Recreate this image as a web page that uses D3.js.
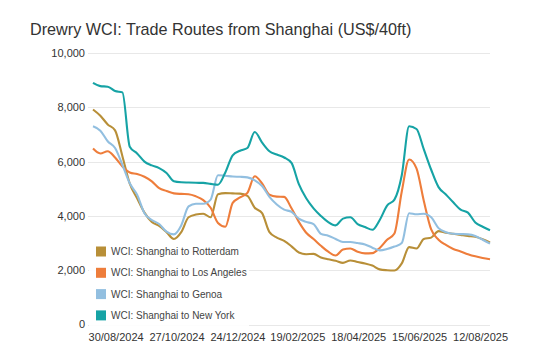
<!DOCTYPE html>
<html lang="en">
  <head>
    <meta charset="utf-8" />
    <title>Drewry WCI: Trade Routes from Shanghai</title>
    <script src="https://d3js.org/d3.v7.min.js"></script>
    <style>
      body {
        margin: 0;
        background: #fff;
      }
      svg {
        display: block;
        font-family: 'Liberation Sans', Arial, sans-serif;
      }
      .grid line {
        stroke: #e8e8e8;
        stroke-width: 1;
      }
      .line {
        fill: none;
        stroke-width: 2.1;
        stroke-linejoin: round;
      }
    </style>
  </head>
  <body>
    <svg width="557" height="355"></svg>
    <script>

    // weekly readings, Thursday 08/08/2024 .. 21/08/2025
    var firstWeek = "2024-08-08";

    var rotterdam = [7920, 7690, 7370, 7150, 6200, 5190, 4650, 4120, 3780, 3630,
                     3400, 3150, 3400, 3950, 4050, 4080, 3950, 4800, 4840, 4830,
                     4820, 4740, 4300, 4100, 3400, 3200, 3080, 2880, 2650, 2590,
                     2600, 2470, 2400, 2350, 2270, 2360, 2300, 2250, 2170, 2030,
                     2000, 1990, 2250, 2850, 2800, 3150, 3200, 3440, 3380, 3340,
                     3300, 3260, 3230, 3140, 3020];

    var losAngeles = [6480, 6300, 6380, 6150, 5820, 5600, 5540, 5440, 5270, 5020,
                      4920, 4830, 4810, 4800, 4720, 4580, 4300, 3740, 3600, 4480,
                      4680, 4850, 5460, 5200, 4780, 4710, 4700, 4280, 3780, 3380,
                      3150, 2900, 2680, 2540, 2760, 2800, 2680, 2620, 2630, 2820,
                      3120, 3350, 4900, 6080, 5750, 4550, 3500, 3120, 2930, 2780,
                      2690, 2590, 2510, 2450, 2400];

    var genoa = [7300, 7140, 6750, 6500, 5880, 5200, 4780, 4100, 3850, 3700,
                 3420, 3320, 3650, 4350, 4450, 4450, 4600, 5500, 5480, 5450,
                 5440, 5420, 5310, 5100, 4700, 4420, 4230, 4150, 3900, 3780,
                 3700, 3340, 3270, 3150, 3040, 3040, 3000, 2950, 2830, 2730,
                 2780, 2870, 3000, 4100, 4060, 4080, 3950, 3550, 3400, 3340,
                 3330, 3320, 3260, 3120, 2980];

    var newYork = [8900, 8780, 8760, 8600, 8550, 6550, 6300, 6000, 5860, 5760,
                   5580, 5280, 5240, 5230, 5220, 5215, 5180, 5150, 5600, 6230,
                   6400, 6500, 7090, 6700, 6380, 6260, 6150, 5950, 5170, 4650,
                   4280, 4000, 3770, 3650, 3900, 3950, 3700, 3590, 3490, 3850,
                   4380, 4600, 5500, 7300, 7200, 6450, 5700, 5060, 4790, 4500,
                   4230, 4120, 3760, 3600, 3470];

    var seriesNames = ["WCI: Shanghai to Rotterdam", "WCI: Shanghai to Los Angeles",
                       "WCI: Shanghai to Genoa", "WCI: Shanghai to New York"];
    var seriesColours = ["#b88f38", "#ee7d3b", "#92bfe0", "#16a3a5"];

    var yTicks = [0, 2000, 4000, 6000, 8000, 10000];
    var xTickLabels = ["30/08/2024", "27/10/2024", "24/12/2024", "19/02/2025",
                       "18/04/2025", "15/06/2025", "12/08/2025"];

    var parseDay = d3.timeParse("%Y-%m-%d"),
        parseLabel = d3.timeParse("%d/%m/%Y");

    var start = parseDay(firstWeek);
    var weeks = rotterdam.map(function(d, i) { return d3.timeDay.offset(start, 7 * i); });

    var series = [rotterdam, losAngeles, genoa, newYork].map(function(values, k) {
      return {
        name: seriesNames[k],
        colour: seriesColours[k],
        values: values.map(function(v, i) { return {date: weeks[i], value: v}; })
      };
    });

    var svg = d3.select("svg"),
        plot = {left: 88, right: 490, top: 53, bottom: 324.5};

    var x = d3.scaleTime()
        .domain([weeks[0], weeks[weeks.length - 1]])
        .range([93, 490]);

    var y = d3.scaleLinear()
        .domain([0, 10000])
        .range([plot.bottom, plot.top]);

    svg.append("text")
        .attr("x", 30)
        .attr("y", 35)
        .attr("font-size", 16.2)
        .attr("fill", "#333")
        .text("Drewry WCI: Trade Routes from Shanghai (US$/40ft)");

    svg.append("g")
        .attr("class", "grid")
        .selectAll("line")
        .data(yTicks)
        .enter().append("line")
        .attr("x1", plot.left)
        .attr("x2", plot.right)
        .attr("y1", function(d) { return Math.round(y(d)) + 0.5; })
        .attr("y2", function(d) { return Math.round(y(d)) + 0.5; });

    svg.append("g")
        .selectAll("text")
        .data(yTicks)
        .enter().append("text")
        .attr("x", 85)
        .attr("y", function(d) { return y(d); })
        .attr("dy", "0.36em")
        .attr("text-anchor", "end")
        .attr("font-size", 11)
        .attr("fill", "#333")
        .text(d3.format(","));

    svg.append("g")
        .selectAll("text")
        .data(xTickLabels)
        .enter().append("text")
        .attr("x", function(d) { return x(parseLabel(d)); })
        .attr("y", 341)
        .attr("text-anchor", "middle")
        .attr("font-size", 11)
        .attr("fill", "#333")
        .text(function(d) { return d; });

    var line = d3.line()
        .curve(d3.curveMonotoneX)
        .x(function(d) { return x(d.date); })
        .y(function(d) { return y(d.value); });

    svg.append("g")
        .selectAll("path")
        .data(series)
        .enter().append("path")
        .attr("class", "line")
        .attr("d", function(d) { return line(d.values); })
        .style("stroke", function(d) { return d.colour; });

    // legend sits on a white panel over the lower left of the plot
    svg.append("rect")
        .attr("x", 89)
        .attr("y", 241)
        .attr("width", 160)
        .attr("height", 88)
        .attr("fill", "#fff")
        .attr("fill-opacity", 0.9);

    var legend = svg.append("g")
        .selectAll("g")
        .data(series)
        .enter().append("g")
        .attr("transform", function(d, i) { return "translate(96," + (246.5 + i * 21.3) + ")"; });

    legend.append("rect")
        .attr("width", 10)
        .attr("height", 10)
        .attr("fill", function(d) { return d.colour; });

    legend.append("text")
        .attr("x", 15)
        .attr("y", 5)
        .attr("dy", "0.36em")
        .attr("font-size", 10)
        .attr("fill", "#444")
        .text(function(d) { return d.name; });

    </script>
  </body>
</html>
